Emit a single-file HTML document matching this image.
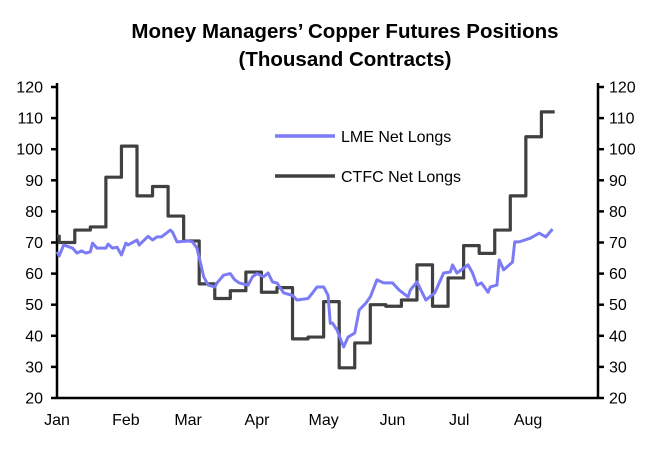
<!DOCTYPE html>
<html><head><meta charset="utf-8"><style>
body{margin:0;background:#fff;}
svg text{font-family:"Liberation Sans",sans-serif;fill:#000;}
</style></head><body>
<svg id="c" width="659" height="458" viewBox="0 0 659 458">
<text x="345" y="38" text-anchor="middle" font-size="20.5" font-weight="bold">Money Managers’ Copper Futures Positions</text>
<text x="345" y="66" text-anchor="middle" font-size="20.5" font-weight="bold">(Thousand Contracts)</text>
<g id="axes"></g>
<g id="series"></g>
<g>
<line x1="275" y1="136" x2="335" y2="136" stroke="#7b7bf5" stroke-width="3.5"/>
<text x="341" y="142" font-size="16">LME Net Longs</text>
<line x1="275" y1="176" x2="335" y2="176" stroke="#404040" stroke-width="3.5"/>
<text x="341" y="182" font-size="16">CTFC Net Longs</text>
</g>
</svg>
<script>
const yTicks=[20,30,40,50,60,70,80,90,100,110,120];
const monthLabels=["Jan","Feb","Mar","Apr","May","Jun","Jul","Aug"];
const monthDays=[0,31,59,90,120,151,181,212];
const ctfcStart=72;
const ctfcValues=[70,74,75,91,101,85,88,78.5,70.5,56.7,52,54.5,60.5,54,55.5,39,39.6,51,29.7,37.7,50,49.5,51.5,62.8,49.5,58.6,69,66.5,74,85,104,112];
const lmeDays=[0,1,3,7,9,11,13,15,16,18,22,23,25,27,29,31,32,36,37,41,43,45,47,51,52,54,59,61,63,66,68,71,72,75,78,80,82,86,88,90,93,95,97,99,102,106,108,113,115,117,120,122,123,124,126,129,131,134,136,139,141,144,147,151,154,158,159,162,166,170,174,177,178,180,185,187,189,191,194,195,198,199,201,205,206,208,213,217,220,223];
const lmeValues=[67,65.7,69.2,68.2,66.6,67.3,66.6,67,69.8,68.2,68.2,69.5,68.2,68.5,66,69.8,69.2,70.8,69.2,72,70.8,71.8,71.8,74,73.3,70.2,70.5,70.2,68.2,59,56.3,55.7,57,59.5,60,58,57,56.3,59,60,59,60.2,57.3,57,53.8,53,51.5,52,53.8,55.7,55.7,53,44,44.1,41.9,36.4,39.6,40.9,48.3,50.5,52.5,58,57,57,54.7,52.5,54.7,57.3,51.5,53.8,60.2,60.5,62.8,60.2,62.8,60.2,56.3,57,54,55.7,56.3,64.4,61.2,63.7,70.2,70.2,71.4,73,71.8,74.3];

const L=57,R=598,T=87,B=398;
const x=d=>L+d*2.222;
const y=v=>B-(v-20)*(B-T)/100;
const NS="http://www.w3.org/2000/svg";
function mk(tag,attrs,parent){const e=document.createElementNS(NS,tag);for(const k in attrs)e.setAttribute(k,attrs[k]);parent.appendChild(e);return e;}
const ax=document.getElementById('axes');
let e;
e=mk('line',{x1:L,y1:T-4,x2:L,y2:B,stroke:'#000','stroke-width':2.5},ax);


e=mk('line',{x1:R,y1:T-4,x2:R,y2:B,stroke:'#000','stroke-width':2.5},ax);


e=mk('line',{x1:L,y1:B,x2:R,y2:B,stroke:'#000','stroke-width':2.5},ax);


yTicks.forEach(v=>{
  mk('line',{x1:L-6,y1:y(v),x2:L,y2:y(v),stroke:'#000','stroke-width':2.5},ax);
  mk('line',{x1:R,y1:y(v),x2:R+6,y2:y(v),stroke:'#000','stroke-width':2.5},ax);
  e=mk('text',{x:L-14,y:y(v)+5.5,'text-anchor':'end','font-size':16},ax);e.textContent=v;
  
  
  e=mk('text',{x:R+11,y:y(v)+5.5,'text-anchor':'start','font-size':16},ax);e.textContent=v;
  
  
});
monthLabels.forEach((m,i)=>{
  e=mk('text',{x:x(monthDays[i]),y:B+27,'text-anchor':'middle','font-size':16},ax);e.textContent=m;
  
  
});
const sg=document.getElementById('series');
let d='M'+x(0)+','+y(ctfcStart);
ctfcValues.forEach((v,k)=>{const day=1+7*k;const prev=k?ctfcValues[k-1]:ctfcStart;d+=' L'+x(day)+','+y(prev)+' L'+x(day)+','+y(v);});
d+=' L'+x(1+7*ctfcValues.length-1)+','+y(ctfcValues[ctfcValues.length-1]);
e=mk('path',{d:d,fill:'none',stroke:'#404040','stroke-width':3.2,'stroke-linejoin':'round'},sg);


let d2=lmeDays.map((dd,i)=>(i?'L':'M')+x(dd)+','+y(lmeValues[i])).join(' ');
e=mk('path',{d:d2,fill:'none',stroke:'#7b7bf5','stroke-width':3,'stroke-linejoin':'round'},sg);


</script>
</body></html>
